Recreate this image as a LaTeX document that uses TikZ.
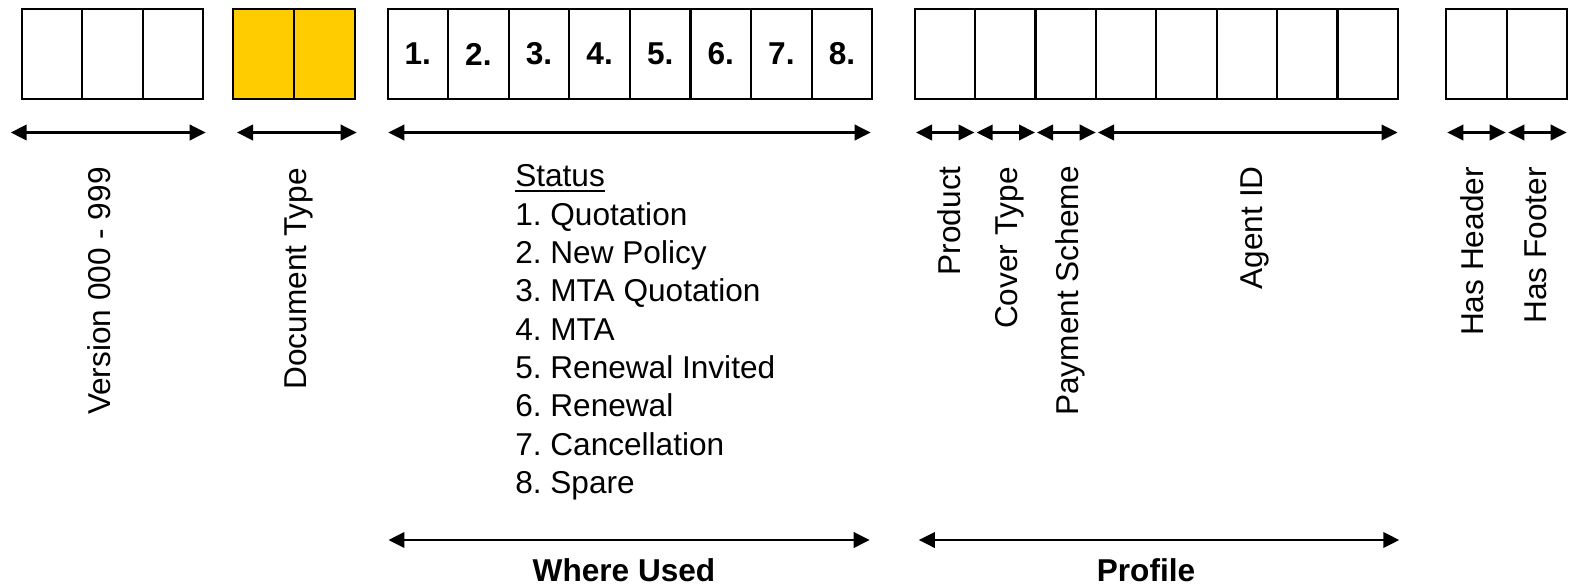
\documentclass[tikz,border=0pt]{standalone}
\usepackage{fontspec}
\setmainfont{Liberation Sans}
\usetikzlibrary{arrows.meta,calc}
\definecolor{docyellow}{HTML}{FFCC00}
\frenchspacing
\begin{document}
\begin{tikzpicture}[x=0.75pt,y=-0.75pt,
  cell/.style={draw=black, line width=1.5pt, minimum width=45.4pt, minimum height=67.5pt,
    inner sep=0pt, outer sep=0pt, font=\bfseries\fontsize{23.7}{28}\selectfont},
  ycell/.style={cell, fill=docyellow},
  dim/.style={line width=2pt, {Triangle[length=12pt,width=11.5pt]}-{Triangle[length=12pt,width=11.5pt]}},
  vlabel/.style={rotate=90, anchor=base east, inner sep=0pt, font=\fontsize{23.7}{28}\selectfont},
  listline/.style={anchor=base west, inner sep=0pt, font=\fontsize{23.7}{28}\selectfont},
  grouplabel/.style={anchor=base, inner sep=0pt, font=\bfseries\fontsize{23.7}{28}\selectfont}]
\useasboundingbox (0,0) rectangle (1569,586);

% cells
\foreach \i in {1,2,3} \node[cell] (v\i) at ({22+60.4*(\i-0.5)},54) {};
\foreach \i in {1,2} \node[ycell] (d\i) at ({233.5+60.5*(\i-0.5)},54) {};
\foreach \i in {1,...,8} \node[cell] (s\i) at ({387.5+60.6*(\i-0.5)},54) {\i.};
\foreach \i in {1,...,8} \node[cell] (p\i) at ({914.7+60.4*(\i-0.5)},54) {};
\foreach \i in {1,2} \node[cell] (h\i) at ({1446+60.5*(\i-0.5)},54) {};

% dimension arrow end points
\coordinate (a1l) at (10.7,132.5);   \coordinate (a1r) at (205.7,132.5);
\coordinate (a2l) at (237,132.5);    \coordinate (a2r) at (356.7,132.5);
\coordinate (a3l) at (388.3,132.5);  \coordinate (a3r) at (870.7,132.5);
\coordinate (a4l) at (916,132.5);    \coordinate (a4r) at (974.5,132.5);
\coordinate (a5l) at (976.6,132.5);  \coordinate (a5r) at (1035,132.5);
\coordinate (a6l) at (1037,132.5);   \coordinate (a6r) at (1095.7,132.5);
\coordinate (a7l) at (1098,132.5);   \coordinate (a7r) at (1397.6,132.5);
\coordinate (a8l) at (1447.3,132.5); \coordinate (a8r) at (1505.7,132.5);
\coordinate (a9l) at (1508.3,132.5); \coordinate (a9r) at (1566.7,132.5);
\coordinate (b1l) at (388.4,540);    \coordinate (b1r) at (869.7,540);
\coordinate (b2l) at (918.8,540);    \coordinate (b2r) at (1399.3,540);

\foreach \k in {1,...,9} \draw[dim] (a\k l) -- (a\k r);
\draw[dim] (b1l) -- (b1r);
\draw[dim] (b2l) -- (b2r);

% vertical labels
\node[vlabel] (lver) at (110,167) {Version 000 - 999};
\node[vlabel] (ldoc) at (306.5,168) {Document Type};
\node[vlabel] (lprod) at (960,166) {Product};
\node[vlabel] (lcov) at (1017,167) {Cover Type};
\node[vlabel] (lpay) at (1078,166) {Payment Scheme};
\node[vlabel] (lagt) at (1262,166) {Agent ID};
\node[vlabel] (lhh) at (1483.5,167) {Has Header};
\node[vlabel] (lhf) at (1546,167) {Has Footer};

% status list
\node[listline] (st0) at (515,186.5) {Status};
\draw[line width=1.5pt] ($(st0.base west)+(0,4.5)$) -- ($(st0.base east)+(0,4.5)$);
\node[listline] (st1) at (515,225) {1. Quotation};
\node[listline] (st2) at (515,263.3) {2. New Policy};
\node[listline] (st3) at (515,301.6) {3. MTA Quotation};
\node[listline] (st4) at (515,340) {4. MTA};
\node[listline] (st5) at (515,378.3) {5. Renewal Invited};
\node[listline] (st6) at (515,416.6) {6. Renewal};
\node[listline] (st7) at (515,455) {7. Cancellation};
\node[listline] (st8) at (515,493.3) {8. Spare};

% group labels
\node[grouplabel] (wu) at (624,581) {Where Used};
\node[grouplabel] (pf) at (1146,581) {Profile};
\end{tikzpicture}
\end{document}
